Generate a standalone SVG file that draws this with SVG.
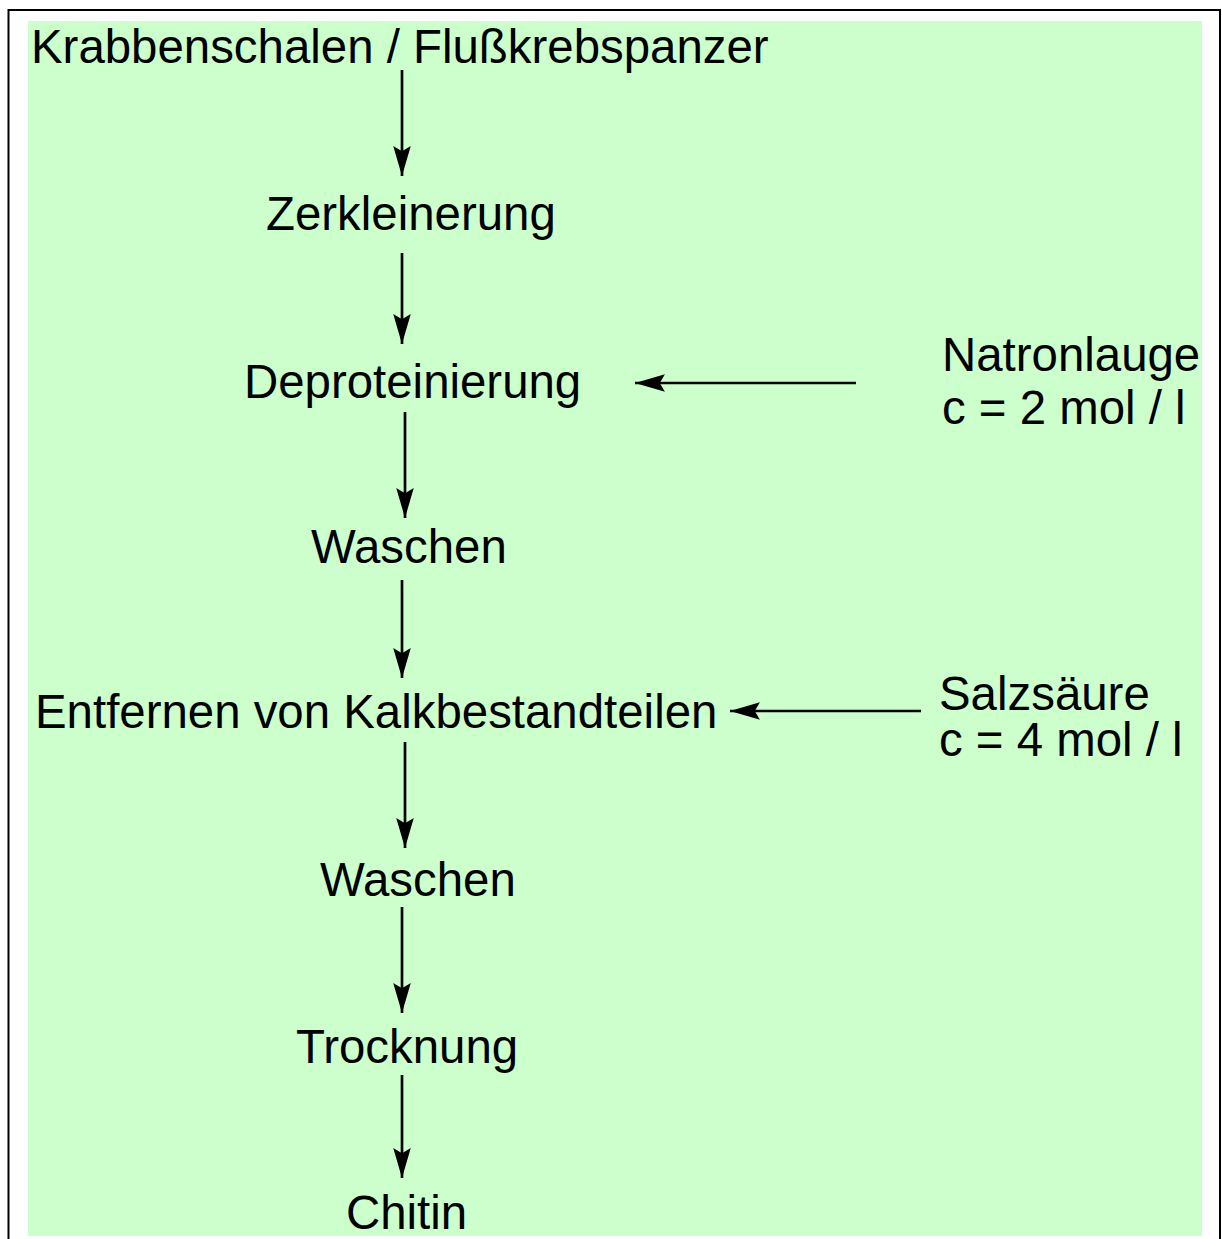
<svg xmlns="http://www.w3.org/2000/svg" width="1222" height="1239" viewBox="0 0 1222 1239">
<style>
text{font-family:"Liberation Sans",Arial,sans-serif;font-size:47.4px;fill:#000}
.c{stroke:#000;stroke-width:2.7;fill:none;marker-end:url(#ah)}
</style>
<defs>
<marker id="ah" markerUnits="userSpaceOnUse" markerWidth="32" markerHeight="20" viewBox="-30 -9 31 18" refX="0" refY="0" orient="auto">
<path d="M0,0 L-29,-8.5 L-24,0 L-29,8.5 Z" fill="#000"/>
</marker>
</defs>
<rect x="0" y="0" width="1222" height="1239" fill="#fff"/>
<rect x="8.5" y="10" width="1211.5" height="1250" fill="none" stroke="#000" stroke-width="2"/>
<rect x="28" y="21" width="1174" height="1215" fill="#CCFFCC"/>
<g id="connectors">
<line class="c" x1="402" y1="70" x2="402" y2="176"/>
<line class="c" x1="402" y1="253" x2="402" y2="344"/>
<line class="c" x1="405" y1="412" x2="405" y2="518"/>
<line class="c" x1="402" y1="580" x2="402" y2="678"/>
<line class="c" x1="405" y1="742" x2="405" y2="848"/>
<line class="c" x1="402" y1="907" x2="402" y2="1013"/>
<line class="c" x1="402" y1="1075" x2="402" y2="1178"/>
<line class="c" x1="856" y1="383" x2="635" y2="383"/>
<line class="c" x1="921" y1="711" x2="730" y2="711"/>
</g>
<g id="n-start"><text x="31" y="63">Krabbenschalen / Flußkrebspanzer</text></g>
<g id="n-zerkleinerung"><text x="266" y="230">Zerkleinerung</text></g>
<g id="n-deproteinierung"><text x="244" y="398">Deproteinierung</text></g>
<g id="n-natronlauge"><text x="942" y="371">Natronlauge</text><text x="942" y="424">c = 2 mol / l</text></g>
<g id="n-waschen1"><text x="311" y="563">Waschen</text></g>
<g id="n-entfernen"><text x="35" y="728">Entfernen von Kalkbestandteilen</text></g>
<g id="n-salzsaeure"><text x="939" y="710">Salzsäure</text><text x="939" y="756">c = 4 mol / l</text></g>
<g id="n-waschen2"><text x="320" y="896">Waschen</text></g>
<g id="n-trocknung"><text x="296" y="1063">Trocknung</text></g>
<g id="n-chitin"><text x="346" y="1229">Chitin</text></g>
</svg>
